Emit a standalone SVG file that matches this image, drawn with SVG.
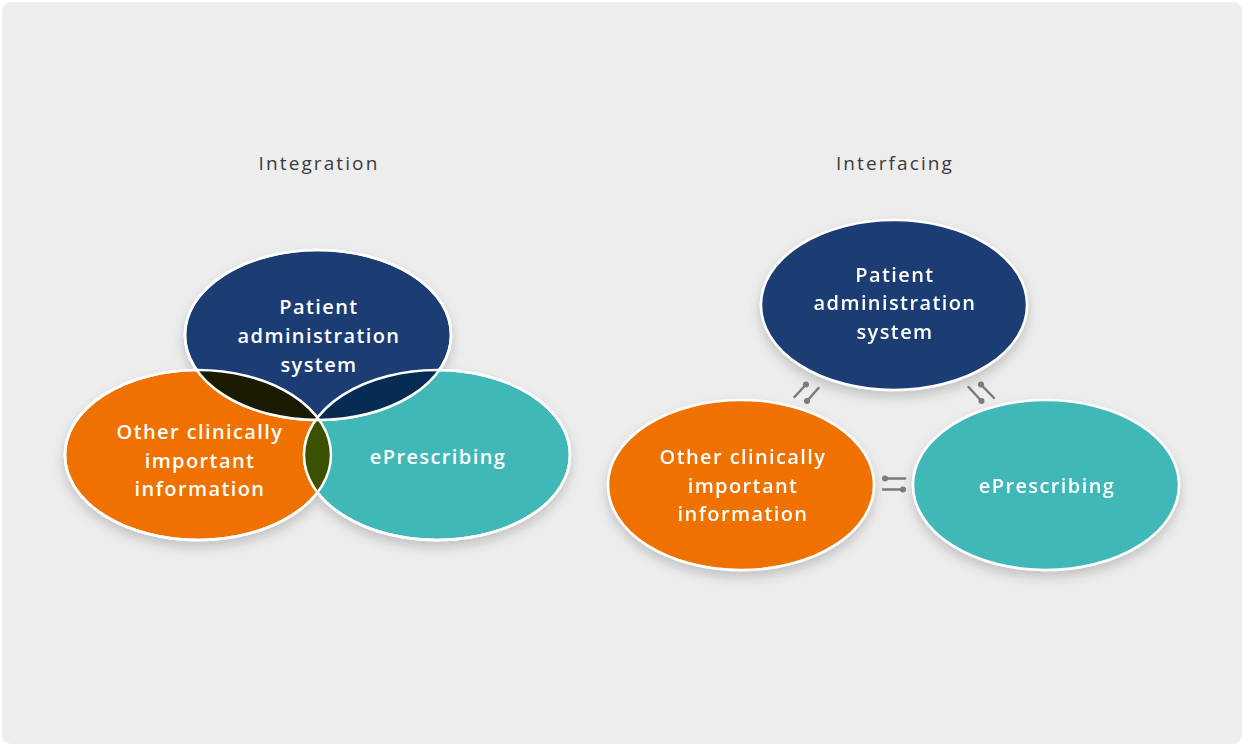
<svg xmlns="http://www.w3.org/2000/svg" width="1244" height="746" viewBox="0 0 1244 746">
<style>
.title{font-family:"Open Sans","Liberation Sans",sans-serif;font-size:19px;font-weight:500;fill:#3a3a3a;letter-spacing:2.1px;text-anchor:middle}
.lbl{font-family:"Open Sans","Liberation Sans",sans-serif;font-size:20px;font-weight:600;fill:#ffffff;letter-spacing:1.4px;text-anchor:middle}
.blue{fill:#1c3d73}
.orange{fill:#ef7100}
.teal{fill:#40b8b8}
.edge{fill:none;stroke:#ffffff;stroke-width:2.5}
.node{stroke:#ffffff;stroke-width:2.5}
.link{stroke:#7a7a7a;stroke-width:2.5;stroke-linecap:round;fill:none}
.dot{fill:#7a7a7a}
</style>
<defs>
<filter id="sh" x="-20%" y="-20%" width="140%" height="150%">
<feDropShadow dx="0" dy="6" stdDeviation="6" flood-color="#000" flood-opacity="0.18"/>
</filter>
<clipPath id="cB"><ellipse cx="318" cy="335" rx="133" ry="85"/></clipPath>
<clipPath id="cO"><ellipse cx="198" cy="455" rx="133" ry="85"/></clipPath>
<clipPath id="cT"><ellipse cx="437" cy="455" rx="133" ry="85"/></clipPath>
</defs>
<rect x="0" y="0" width="1244" height="746" fill="#ffffff"/>
<rect x="2" y="2" width="1240" height="742" rx="9" fill="#ededed"/>

<text class="title" x="319" y="170">Integration</text>
<text class="title" x="895" y="170">Interfacing</text>

<g filter="url(#sh)">
<g id="int-other">
<ellipse class="orange node" cx="198" cy="455" rx="133" ry="85"/>
</g>
<g id="int-eprescribing">
<ellipse class="teal node" cx="437" cy="455" rx="133" ry="85"/>
</g>
<g id="int-pas">
<ellipse class="blue node" cx="318" cy="335" rx="133" ry="85"/>
</g>
</g>
<g id="int-overlaps">
<g clip-path="url(#cB)"><ellipse cx="198" cy="455" rx="133" ry="85" fill="#1a1b00"/></g>
<g clip-path="url(#cB)"><ellipse cx="437" cy="455" rx="133" ry="85" fill="#072c53"/></g>
<g clip-path="url(#cO)"><ellipse cx="437" cy="455" rx="133" ry="85" fill="#3c5100"/></g>
<ellipse class="edge" cx="318" cy="335" rx="133" ry="85"/>
<ellipse class="edge" cx="198" cy="455" rx="133" ry="85"/>
<ellipse class="edge" cx="437" cy="455" rx="133" ry="85"/>
</g>
<g id="int-labels">
<text class="lbl" x="319" y="314">Patient</text>
<text class="lbl" x="319" y="343">administration</text>
<text class="lbl" x="319" y="372">system</text>
<text class="lbl" x="200" y="439">Other clinically</text>
<text class="lbl" x="200" y="468">important</text>
<text class="lbl" x="200" y="496">information</text>
<text class="lbl" x="438" y="464">ePrescribing</text>
</g>

<g filter="url(#sh)">
<g id="if-pas">
<ellipse class="blue node" cx="894" cy="305" rx="133" ry="85"/>
<text class="lbl" x="895" y="282">Patient</text>
<text class="lbl" x="895" y="310">administration</text>
<text class="lbl" x="895" y="339">system</text>
</g>
<g id="if-other">
<ellipse class="orange node" cx="741" cy="485" rx="133" ry="85"/>
<text class="lbl" x="743" y="464">Other clinically</text>
<text class="lbl" x="743" y="493">important</text>
<text class="lbl" x="743" y="521">information</text>
</g>
<g id="if-eprescribing">
<ellipse class="teal node" cx="1046" cy="485" rx="133" ry="85"/>
<text class="lbl" x="1047" y="493">ePrescribing</text>
</g>
</g>

<g id="connectors">
<line class="link" x1="794.5" y1="397" x2="806" y2="384.5"/>
<circle class="dot" cx="806" cy="384.5" r="3"/>
<line class="link" x1="807" y1="401" x2="818.5" y2="388"/>
<circle class="dot" cx="807" cy="401" r="3"/>
<line class="link" x1="968.5" y1="387" x2="981.5" y2="401"/>
<circle class="dot" cx="981.5" cy="401" r="3"/>
<line class="link" x1="981" y1="384.5" x2="994" y2="398"/>
<circle class="dot" cx="981" cy="384.5" r="3"/>
<line class="link" x1="885" y1="478.5" x2="905" y2="478.5"/>
<circle class="dot" cx="885" cy="478.5" r="3"/>
<line class="link" x1="883" y1="489.5" x2="903" y2="489.5"/>
<circle class="dot" cx="903" cy="489.5" r="3"/>
</g>
</svg>
